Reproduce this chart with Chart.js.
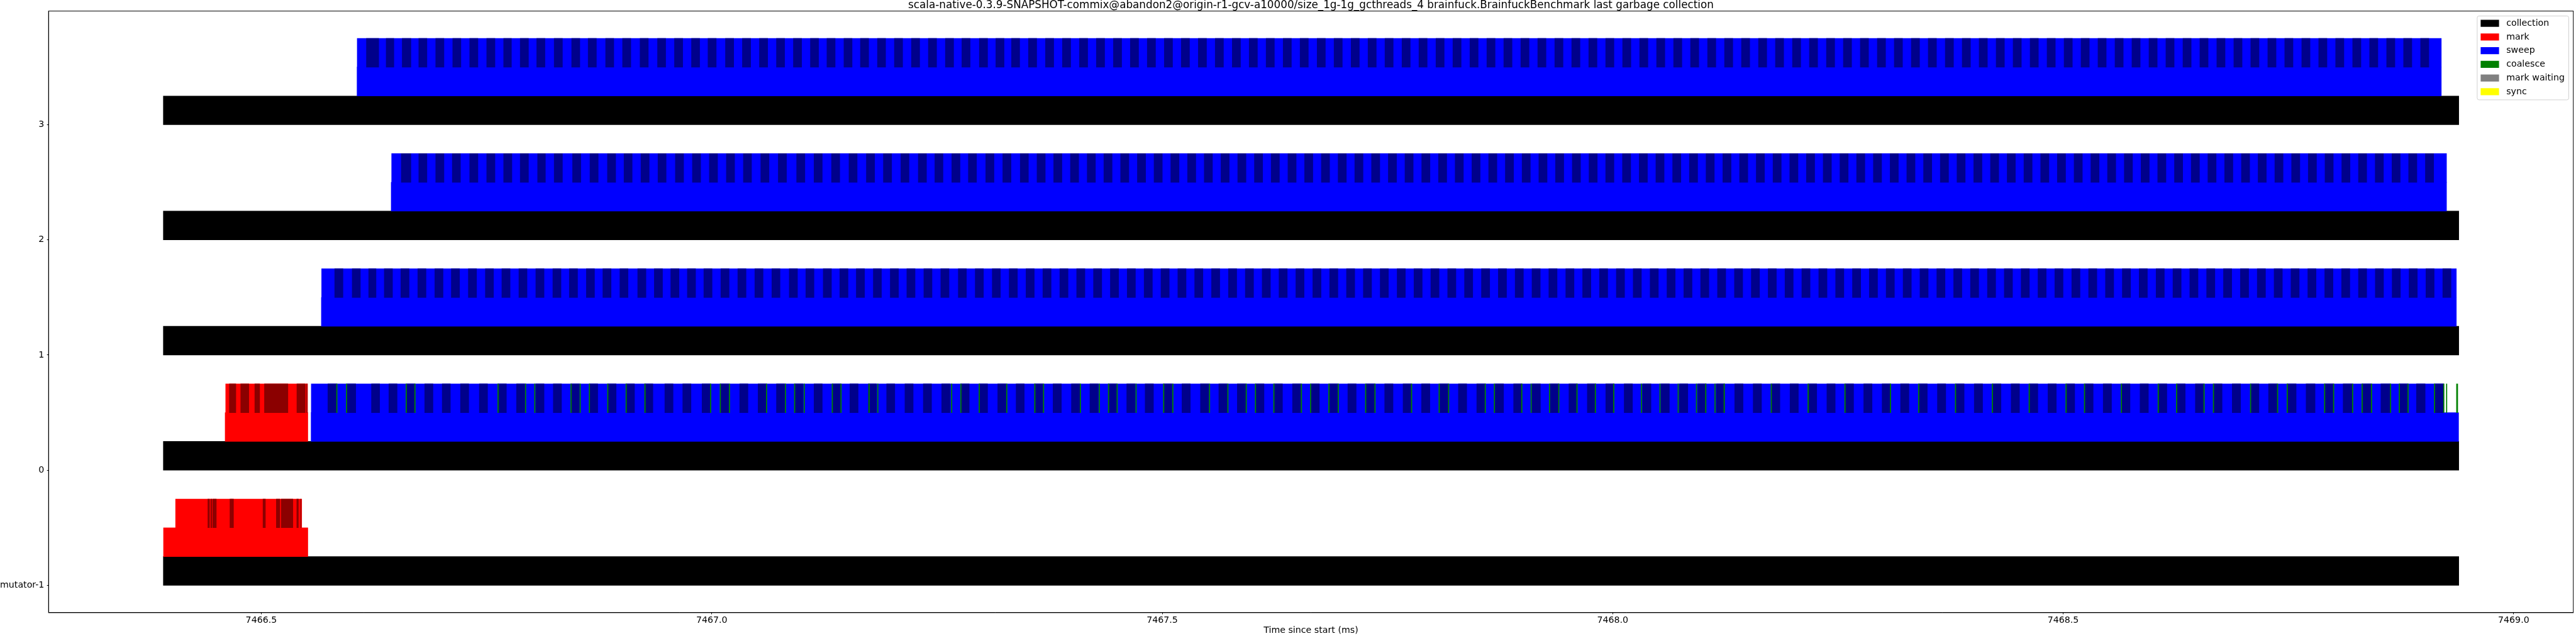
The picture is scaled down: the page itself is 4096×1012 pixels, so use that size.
<!DOCTYPE html>
<html>
<head>
<meta charset="utf-8">
<script src="https://cdn.jsdelivr.net/npm/chart.js@4.4.1/dist/chart.umd.min.js"></script>
<style>
  html, body { margin: 0; padding: 0; background: #fff; }
  #wrap { position: relative; width: 4096px; height: 1012px; }
</style>
</head>
<body>
<div id="wrap"><canvas id="gcChart"></canvas></div>
<script>
const TITLE = 'scala-native-0.3.9-SNAPSHOT-commix@abandon2@origin-r1-gcv-a10000/size_1g-1g_gcthreads_4 brainfuck.BrainfuckBenchmark last garbage collection';

// times below are microseconds after T0_MS
const T0_MS = 7466;
const rowIds = [-1, 0, 1, 2, 3];
const rowNames = ['mutator-1', '0', '1', '2', '3'];
const xTicks = [7466.5, 7467.0, 7467.5, 7468.0, 7468.5, 7469.0];
const xRange = [7466.2639, 7469.0662];
const yRange = [-1.2375, 3.9875];

// one entry per row (same order as rowIds)
const collectionUs = [[391.3, 2939.1], [391.3, 2939.1], [391.3, 2939.1], [391.3, 2939.1], [391.3, 2939.1]];
const markPhaseUs = [[391.5, 551.7], [459.9, 551.7], null, null, null];
const sweepPhaseUs = [null, [555.3, 2938.9], [566.7, 2936.4], [644.2, 2925.5], [606.3, 2919.7]];
const markBatchUs = [[404.9, 544.9], [460.5, 551.4], null, null, null];
const sweepBatchUs = [null, [555.5, 2922.1], [567.0, 2936.4], [644.7, 2925.5], [606.5, 2919.7]];

// darker alternating batches
const markDarkMut = [[440.7, 442.5], [444.0, 445.0], [446.1, 450.1], [465.2, 467.0], [467.2, 469.2],
  [501.9, 504.6], [516.7, 520.6], [522.2, 535.1], [539.4, 541.2], [543.8, 544.2]];
const markDark0 = [[464.6, 471.8], [477.2, 486.2], [492.8, 498.2], [503.5, 529.6], [539.5, 548.8], [550.3, 550.9]];

const sweepDark0 = [[573.9, 583.5], [595.3, 604.9], [622.3, 631.4], [641.6, 650.8], [661.5, 670.2], [681.4, 690.6],
  [700.8, 709.9], [721.1, 730.3], [742.0, 751.2], [762.9, 772.1], [783.3, 792.5], [804.7, 813.9], [824.1, 833.3],
  [843.9, 853.1], [864.3, 873.5], [884.7, 893.9], [905.1, 914.3], [925.5, 934.7], [947.9, 957.1], [967.8, 977.0],
  [989.2, 998.4], [1009.6, 1018.8], [1031.0, 1040.2], [1051.4, 1060.5], [1071.8, 1080.9], [1092.1, 1101.3],
  [1113.5, 1122.7], [1133.9, 1143.1], [1153.3, 1162.5], [1173.7, 1182.8], [1194.1, 1203.2], [1214.4, 1223.6],
  [1234.8, 1244.0], [1255.2, 1264.4], [1276.6, 1285.8], [1297.0, 1306.2], [1317.4, 1326.6], [1337.8, 1346.9],
  [1358.3, 1367.6], [1378.8, 1388.1], [1399.2, 1408.5], [1419.7, 1429.0], [1440.1, 1449.4], [1460.6, 1469.9],
  [1481.0, 1490.3], [1501.5, 1510.8], [1521.9, 1531.2], [1542.4, 1551.7], [1562.8, 1572.1], [1583.3, 1592.6],
  [1603.7, 1613.0], [1624.2, 1633.5], [1644.6, 1653.9], [1665.1, 1674.4], [1685.5, 1694.8], [1706.0, 1715.3],
  [1726.4, 1735.7], [1746.9, 1756.2], [1767.3, 1776.6], [1787.8, 1797.1], [1808.2, 1817.5], [1828.7, 1838.0],
  [1849.1, 1858.4], [1869.6, 1878.9], [1890.0, 1899.3], [1910.5, 1919.8], [1930.9, 1940.2], [1951.4, 1960.7],
  [1971.8, 1981.1], [1992.3, 2001.6], [2012.7, 2022.0], [2033.2, 2042.5], [2053.6, 2062.9], [2074.1, 2083.4],
  [2094.5, 2103.8], [2115.0, 2124.3], [2135.4, 2144.7], [2155.9, 2165.2], [2176.3, 2185.6], [2196.8, 2206.1],
  [2217.2, 2226.5], [2237.7, 2247.0], [2258.1, 2267.4], [2278.6, 2287.9], [2299.0, 2308.3], [2319.5, 2328.8],
  [2339.9, 2349.2], [2360.4, 2369.7], [2380.8, 2390.1], [2401.3, 2410.6], [2421.7, 2431.0], [2442.2, 2451.5],
  [2462.6, 2471.9], [2483.1, 2492.4], [2503.5, 2512.8], [2524.0, 2533.3], [2544.4, 2553.7], [2564.9, 2574.2],
  [2585.3, 2594.6], [2605.8, 2615.1], [2626.2, 2635.5], [2646.7, 2656.0], [2667.1, 2676.4], [2687.6, 2696.9],
  [2708.1, 2717.3], [2727.9, 2737.6], [2748.7, 2758.6], [2769.6, 2779.6], [2790.2, 2799.8], [2810.7, 2820.7],
  [2831.9, 2841.7], [2852.7, 2863.0], [2873.2, 2882.4], [2892.1, 2901.8], [2912.4, 2922.1]];
const sweepDark1 = [[581.5, 590.7], [600.9, 610.0], [619.2, 627.4], [636.5, 645.7], [654.9, 664.1], [673.7, 682.9],
  [692.6, 701.8], [710.9, 720.1], [729.8, 739.0], [748.7, 757.8], [767.0, 776.2], [785.9, 795.0], [804.7, 813.9],
  [823.6, 832.7], [841.9, 851.1], [860.8, 869.9], [879.1, 888.3], [898.0, 907.1], [917.8, 927.0], [936.2, 945.4],
  [954.5, 963.7], [972.9, 982.1], [991.2, 1000.4], [1010.1, 1019.3], [1028.9, 1038.1], [1047.8, 1057.0],
  [1066.7, 1075.8], [1086.0, 1095.2], [1104.4, 1113.5], [1123.7, 1132.9], [1142.1, 1151.3], [1160.4, 1169.6],
  [1179.3, 1188.4], [1198.1, 1207.3], [1216.5, 1225.7], [1235.4, 1244.5], [1254.2, 1263.4], [1273.6, 1282.7],
  [1292.4, 1301.6], [1311.3, 1320.4], [1330.1, 1339.3], [1348.8, 1358.0], [1367.5, 1376.7], [1386.3, 1395.5],
  [1405.0, 1414.2], [1423.7, 1432.9], [1442.4, 1451.6], [1461.1, 1470.3], [1479.9, 1489.1], [1498.6, 1507.8],
  [1517.3, 1526.5], [1536.0, 1545.2], [1554.7, 1563.9], [1573.5, 1582.7], [1592.2, 1601.4], [1610.9, 1620.1],
  [1629.6, 1638.8], [1648.3, 1657.5], [1667.1, 1676.3], [1685.8, 1695.0], [1704.5, 1713.7], [1723.2, 1732.4],
  [1741.9, 1751.1], [1760.7, 1769.9], [1779.4, 1788.6], [1798.1, 1807.3], [1816.8, 1826.0], [1835.5, 1844.7],
  [1854.3, 1863.5], [1873.0, 1882.2], [1891.7, 1900.9], [1910.4, 1919.6], [1929.1, 1938.3], [1947.9, 1957.1],
  [1966.6, 1975.8], [1985.3, 1994.5], [2004.0, 2013.2], [2022.7, 2031.9], [2041.5, 2050.7], [2060.2, 2069.4],
  [2078.9, 2088.1], [2097.6, 2106.8], [2116.3, 2125.5], [2135.1, 2144.3], [2153.8, 2163.0], [2172.5, 2181.7],
  [2191.2, 2200.4], [2209.9, 2219.1], [2228.7, 2237.9], [2247.4, 2256.6], [2266.1, 2275.3], [2284.8, 2294.0],
  [2303.5, 2312.7], [2322.3, 2331.5], [2341.0, 2350.2], [2359.7, 2368.9], [2378.4, 2387.6], [2397.1, 2406.3],
  [2415.9, 2425.1], [2434.6, 2443.8], [2453.3, 2462.5], [2472.0, 2481.2], [2490.7, 2499.9], [2509.5, 2518.7],
  [2528.2, 2537.4], [2546.9, 2556.1], [2565.6, 2574.8], [2584.3, 2593.5], [2603.1, 2612.3], [2621.8, 2631.0],
  [2640.5, 2649.7], [2659.2, 2668.4], [2677.9, 2687.1], [2696.7, 2705.9], [2715.4, 2724.6], [2734.1, 2743.3],
  [2752.8, 2762.0], [2771.5, 2780.7], [2790.3, 2799.5], [2809.0, 2818.2], [2827.7, 2836.9], [2846.4, 2855.6],
  [2865.1, 2874.3], [2883.9, 2893.1], [2902.6, 2911.8], [2921.3, 2930.5]];
const sweepDark2 = [[655.4, 666.1], [674.8, 683.9], [693.6, 702.8], [712.0, 721.1], [731.3, 740.5], [750.2, 759.4],
  [769.0, 778.2], [787.4, 796.6], [806.7, 815.4], [825.1, 834.3], [845.5, 854.7], [864.8, 874.0], [884.2, 893.4],
  [902.6, 911.7], [921.4, 930.6], [940.3, 949.4], [959.6, 968.8], [978.5, 987.7], [997.3, 1006.5], [1016.2, 1025.4],
  [1035.1, 1044.2], [1054.4, 1063.6], [1073.8, 1083.0], [1094.2, 1103.4], [1113.5, 1122.7], [1132.9, 1142.1],
  [1152.3, 1161.4], [1171.6, 1180.8], [1190.5, 1199.7], [1209.9, 1219.0], [1229.2, 1238.4], [1247.6, 1256.7],
  [1266.4, 1275.6], [1284.8, 1293.9], [1304.1, 1313.3], [1323.0, 1332.2], [1342.4, 1351.5], [1361.0, 1370.2],
  [1379.5, 1388.7], [1398.1, 1407.3], [1416.7, 1425.9], [1435.2, 1444.4], [1453.8, 1463.0], [1472.4, 1481.6],
  [1490.9, 1500.1], [1509.5, 1518.7], [1528.1, 1537.3], [1546.6, 1555.8], [1565.2, 1574.4], [1583.8, 1593.0],
  [1602.3, 1611.5], [1620.9, 1630.1], [1639.5, 1648.7], [1658.0, 1667.2], [1676.6, 1685.8], [1695.2, 1704.4],
  [1713.7, 1722.9], [1732.3, 1741.5], [1750.9, 1760.1], [1769.4, 1778.6], [1788.0, 1797.2], [1806.6, 1815.8],
  [1825.1, 1834.3], [1843.7, 1852.9], [1862.3, 1871.5], [1880.8, 1890.0], [1899.4, 1908.6], [1918.0, 1927.2],
  [1936.5, 1945.7], [1955.1, 1964.3], [1973.7, 1982.9], [1992.2, 2001.4], [2010.8, 2020.0], [2029.4, 2038.6],
  [2047.9, 2057.1], [2066.5, 2075.7], [2085.1, 2094.3], [2103.6, 2112.8], [2122.2, 2131.4], [2140.8, 2150.0],
  [2159.3, 2168.5], [2177.9, 2187.1], [2196.5, 2205.7], [2215.0, 2224.2], [2233.6, 2242.8], [2252.2, 2261.4],
  [2270.7, 2279.9], [2289.3, 2298.5], [2307.9, 2317.1], [2326.4, 2335.6], [2345.0, 2354.2], [2363.6, 2372.8],
  [2382.1, 2391.3], [2400.7, 2409.9], [2419.3, 2428.5], [2437.8, 2447.0], [2456.4, 2465.6], [2475.0, 2484.2],
  [2493.5, 2502.7], [2512.1, 2521.3], [2530.7, 2539.9], [2549.2, 2558.4], [2567.8, 2577.0], [2586.4, 2595.6],
  [2604.9, 2614.1], [2623.5, 2632.7], [2642.1, 2651.3], [2660.6, 2669.8], [2679.2, 2688.4], [2697.8, 2707.0],
  [2716.3, 2725.5], [2734.9, 2744.1], [2753.5, 2762.7], [2772.0, 2781.2], [2790.6, 2799.8], [2809.2, 2818.4],
  [2827.7, 2836.9], [2846.3, 2855.5], [2864.9, 2874.1], [2883.4, 2892.6], [2902.0, 2911.2]];
const sweepDark3 = [[616.7, 630.4], [638.6, 647.2], [656.4, 666.1], [674.8, 683.9], [693.6, 702.8], [712.5, 721.6],
  [731.3, 740.5], [750.2, 759.4], [769.0, 777.7], [787.4, 796.6], [805.7, 814.9], [825.1, 834.3], [844.5, 853.6],
  [862.8, 872.0], [882.2, 891.3], [901.0, 910.2], [920.4, 929.6], [939.8, 948.9], [958.6, 967.8], [977.5, 986.6],
  [995.8, 1005.0], [1015.2, 1024.4], [1034.0, 1043.2], [1052.9, 1062.1], [1071.8, 1080.9], [1090.6, 1099.8],
  [1109.5, 1118.6], [1127.8, 1137.0], [1146.7, 1155.8], [1165.0, 1174.2], [1183.9, 1193.0], [1202.7, 1211.9],
  [1221.6, 1230.8], [1240.4, 1249.6], [1259.3, 1268.5], [1277.6, 1286.8], [1297.0, 1306.2], [1315.3, 1324.5],
  [1332.7, 1341.8], [1351.5, 1360.7], [1370.4, 1379.6], [1389.2, 1398.4], [1408.1, 1417.3], [1426.9, 1436.1],
  [1445.8, 1455.0], [1464.6, 1473.8], [1483.4, 1492.6], [1502.3, 1511.5], [1521.1, 1530.3], [1540.0, 1549.2],
  [1558.8, 1568.0], [1577.7, 1586.9], [1596.5, 1605.7], [1615.3, 1624.5], [1634.2, 1643.4], [1653.0, 1662.2],
  [1671.9, 1681.1], [1690.7, 1699.9], [1709.6, 1718.8], [1728.4, 1737.6], [1747.2, 1756.4], [1766.1, 1775.3],
  [1784.9, 1794.1], [1803.8, 1813.0], [1822.6, 1831.8], [1841.5, 1850.7], [1860.3, 1869.5], [1879.1, 1888.3],
  [1898.0, 1907.2], [1916.8, 1926.0], [1935.7, 1944.9], [1954.5, 1963.7], [1973.4, 1982.6], [1992.2, 2001.4],
  [2011.0, 2020.2], [2029.9, 2039.1], [2048.7, 2057.9], [2067.6, 2076.8], [2086.4, 2095.6], [2105.3, 2114.5],
  [2124.1, 2133.3], [2142.9, 2152.1], [2161.8, 2171.0], [2180.6, 2189.8], [2199.5, 2208.7], [2218.3, 2227.5],
  [2237.2, 2246.4], [2256.0, 2265.2], [2274.8, 2284.0], [2293.7, 2302.9], [2312.5, 2321.7], [2331.4, 2340.6],
  [2350.2, 2359.4], [2369.1, 2378.3], [2387.9, 2397.1], [2406.7, 2415.9], [2425.6, 2434.8], [2444.4, 2453.6],
  [2463.3, 2472.5], [2482.1, 2491.3], [2501.0, 2510.2], [2519.8, 2529.0], [2538.6, 2547.8], [2557.5, 2566.7],
  [2576.3, 2585.5], [2595.2, 2604.4], [2614.0, 2623.2], [2632.9, 2642.1], [2651.7, 2660.9], [2670.5, 2679.7],
  [2689.4, 2698.6], [2708.2, 2717.4], [2727.1, 2736.3], [2745.9, 2755.1], [2764.8, 2774.0], [2783.6, 2792.8],
  [2802.4, 2811.6], [2821.3, 2830.5], [2840.1, 2849.3], [2859.0, 2868.2], [2877.8, 2887.0], [2896.7, 2905.9]];

const coalesce0 = [[583.5, 584.3], [594.2, 595.0], [660.5, 661.3], [670.2, 671.0], [762.4, 763.2], [793.0, 793.8],
  [803.2, 804.0], [843.4, 844.2], [853.6, 854.4], [863.8, 864.6], [884.2, 885.0], [904.6, 905.4], [925.5, 926.3],
  [998.4, 999.2], [1009.1, 1009.9], [1019.3, 1020.1], [1060.5, 1061.3], [1081.5, 1082.3], [1091.6, 1092.4],
  [1102.3, 1103.1], [1133.4, 1134.2], [1143.1, 1143.9], [1174.2, 1175.0], [1183.9, 1184.7], [1265.9, 1266.7],
  [1276.1, 1276.9], [1296.5, 1297.3], [1327.1, 1327.9], [1358.2, 1359.0], [1367.9, 1368.7], [1408.8, 1409.6],
  [1429.8, 1430.6], [1440.0, 1440.8], [1449.6, 1450.4], [1470.6, 1471.4], [1501.2, 1502.0], [1511.4, 1512.2],
  [1552.1, 1552.9], [1572.5, 1573.3], [1592.9, 1593.7], [1603.1, 1603.9], [1623.5, 1624.3], [1654.1, 1654.9],
  [1664.3, 1665.1], [1684.6, 1685.4], [1695.0, 1695.8], [1725.4, 1726.2], [1735.8, 1736.6], [1776.4, 1777.2],
  [1807.0, 1807.8], [1817.5, 1818.3], [1858.2, 1859.0], [1868.3, 1869.1], [1898.7, 1899.5], [1909.1, 1909.9],
  [1929.5, 1930.3], [1939.8, 1940.6], [1960.0, 1960.8], [1980.4, 1981.2], [2000.8, 2001.6], [2031.5, 2032.3],
  [2052.1, 2052.9], [2072.3, 2073.1], [2092.6, 2093.4], [2102.9, 2103.7], [2113.2, 2114.0], [2123.4, 2124.2],
  [2175.6, 2176.4], [2216.5, 2217.3], [2257.4, 2258.2], [2308.0, 2308.8], [2339.2, 2340.0], [2380.1, 2380.9],
  [2421.0, 2421.8], [2461.9, 2462.7], [2502.8, 2503.6], [2523.3, 2524.1], [2564.2, 2565.0], [2605.1, 2605.9],
  [2625.5, 2626.3], [2656.0, 2656.8], [2666.4, 2667.2], [2707.6, 2708.4], [2737.6, 2738.4], [2748.3, 2749.1],
  [2789.8, 2790.6], [2799.8, 2800.6], [2820.9, 2821.7], [2831.4, 2832.2], [2841.9, 2842.7], [2863.0, 2863.8],
  [2872.7, 2873.5], [2882.4, 2883.2], [2911.8, 2912.6], [2922.1, 2922.9], [2925.2, 2926.0], [2936.5, 2938.0]];

const toMs = us => T0_MS + us / 1000;
function bars(spans, y) {
  return spans.map(([s, e]) => ({ x: [toMs(s), toMs(e)], y: y }));
}
function perRow(list, offset) {
  let out = [];
  list.forEach((span, i) => { if (span) out = out.concat(bars([span], rowIds[i] + offset)); });
  return out;
}

const barOpts = { grouped: false, barPercentage: 1, categoryPercentage: 1, borderWidth: 0, xAxisID: 'x', yAxisID: 'y' };

const datasets = [
  { label: 'coalesce', inLegend: true, backgroundColor: '#008000', order: 0,
    data: bars(coalesce0, 0.625), ...barOpts },
  { label: 'mark dark', backgroundColor: '#8b0000', order: 1,
    data: bars(markDarkMut, -1 + 0.625).concat(bars(markDark0, 0.625)), ...barOpts },
  { label: 'sweep dark', backgroundColor: '#00008b', order: 1,
    data: bars(sweepDark0, 0.625).concat(bars(sweepDark1, 1.625), bars(sweepDark2, 2.625), bars(sweepDark3, 3.625)), ...barOpts },
  { label: 'collection', inLegend: true, backgroundColor: '#000000', order: 3,
    data: perRow(collectionUs, 0.125), ...barOpts },
  { label: 'mark', inLegend: true, backgroundColor: '#ff0000', order: 2,
    data: perRow(markPhaseUs, 0.375).concat(perRow(markBatchUs, 0.625)), ...barOpts },
  { label: 'sweep', inLegend: true, backgroundColor: '#0000ff', order: 2,
    data: perRow(sweepPhaseUs, 0.375).concat(perRow(sweepBatchUs, 0.625)), ...barOpts },
  { label: 'mark waiting', inLegend: true, backgroundColor: '#808080', order: 4, data: [], ...barOpts },
  { label: 'sync', inLegend: true, backgroundColor: '#ffff00', order: 5, data: [], ...barOpts }
];
const legendOrder = ['collection', 'mark', 'sweep', 'coalesce', 'mark waiting', 'sync'];

// axes frame on all four sides
const framePlugin = {
  id: 'frame',
  afterDatasetsDraw(chart) {
    const { ctx, chartArea: a } = chart;
    ctx.save();
    ctx.strokeStyle = '#000';
    ctx.lineWidth = 1;
    ctx.strokeRect(a.left, a.top, a.right - a.left, a.bottom - a.top);
    ctx.restore();
  }
};

// boxed legend in the upper right corner of the plot
const legendBox = {
  id: 'legendBox',
  afterDraw(chart) {
    const { ctx, chartArea } = chart;
    const entries = legendOrder.map(n => chart.data.datasets.find(d => d.label === n && d.inLegend));
    const w = 145.6, h = 133.5;
    const x0 = chartArea.right - 152.8, y0 = chartArea.top + 7.8;
    ctx.save();
    ctx.fillStyle = 'rgba(255,255,255,0.8)';
    ctx.strokeStyle = '#d0d0d0';
    ctx.lineWidth = 1;
    ctx.beginPath();
    ctx.roundRect(x0, y0, w, h, 3);
    ctx.fill();
    ctx.stroke();
    ctx.font = '14.2px "DejaVu Sans"';
    ctx.textBaseline = 'middle';
    entries.forEach((d, i) => {
      const cy = y0 + 11.7 + i * 21.76;
      ctx.fillStyle = d.backgroundColor;
      ctx.fillRect(x0 + 5.5, cy - 5.6, 29.2, 11.2);
      ctx.fillStyle = '#000';
      ctx.fillText(d.label, x0 + 46.3, cy);
    });
    ctx.restore();
  }
};

const tickFont = { family: 'DejaVu Sans', size: 14.2 };

new Chart(document.getElementById('gcChart'), {
  type: 'bar',
  data: { datasets },
  options: {
    indexAxis: 'y',
    responsive: true,
    maintainAspectRatio: false,
    animation: false,
    devicePixelRatio: 1,
    layout: { padding: { left: 0, right: 4.3, top: 0, bottom: 0 } },
    scales: {
      x: {
        type: 'linear',
        position: 'bottom',
        min: xRange[0],
        max: xRange[1],
        offset: false,
        afterDataLimits: s => { s.min = xRange[0]; s.max = xRange[1]; },
        afterBuildTicks: s => { s.ticks = xTicks.map(v => ({ value: v })); },
        afterFit: s => { s.height = 37.1; },
        ticks: { font: tickFont, color: '#000', padding: 1, maxRotation: 0, autoSkip: false,
          callback: v => Number(v).toFixed(1) },
        grid: { drawOnChartArea: false, drawTicks: true, tickLength: 2.5, color: '#000', lineWidth: 1, offset: false },
        border: { display: true, color: '#000', width: 1 },
        title: { display: true, text: 'Time since start (ms)', font: tickFont, color: '#000', padding: { top: 0, bottom: 0 } }
      },
      // carries the chart title so that it is centred over the plot area
      xTop: {
        type: 'linear',
        axis: 'x',
        position: 'top',
        min: xRange[0],
        max: xRange[1],
        offset: false,
        afterFit: s => { s.height = 17.6; },
        ticks: { display: false },
        grid: { display: false, drawTicks: false },
        border: { display: false },
        title: { display: true, text: TITLE, color: '#000',
          font: { family: 'DejaVu Sans', size: 16.8, lineHeight: 1 }, padding: { top: 0.2, bottom: 0.6 } }
      },
      y: {
        type: 'linear',
        position: 'left',
        min: yRange[0],
        max: yRange[1],
        offset: false,
        afterDataLimits: s => { s.min = yRange[0]; s.max = yRange[1]; },
        afterBuildTicks: s => { s.ticks = rowIds.map(v => ({ value: v })); },
        afterFit: s => { s.width = 77.2; },
        ticks: { font: tickFont, color: '#000', padding: 4.3, autoSkip: false,
          callback: v => rowNames[rowIds.indexOf(v)] },
        grid: { drawOnChartArea: false, drawTicks: true, tickLength: 2.5, color: '#000', lineWidth: 1, offset: false },
        border: { display: true, color: '#000', width: 1 }
      }
    },
    plugins: {
      legend: { display: false },
      tooltip: { enabled: false },
      title: { display: false }
    }
  },
  plugins: [framePlugin, legendBox]
});
</script>
</body>
</html>
